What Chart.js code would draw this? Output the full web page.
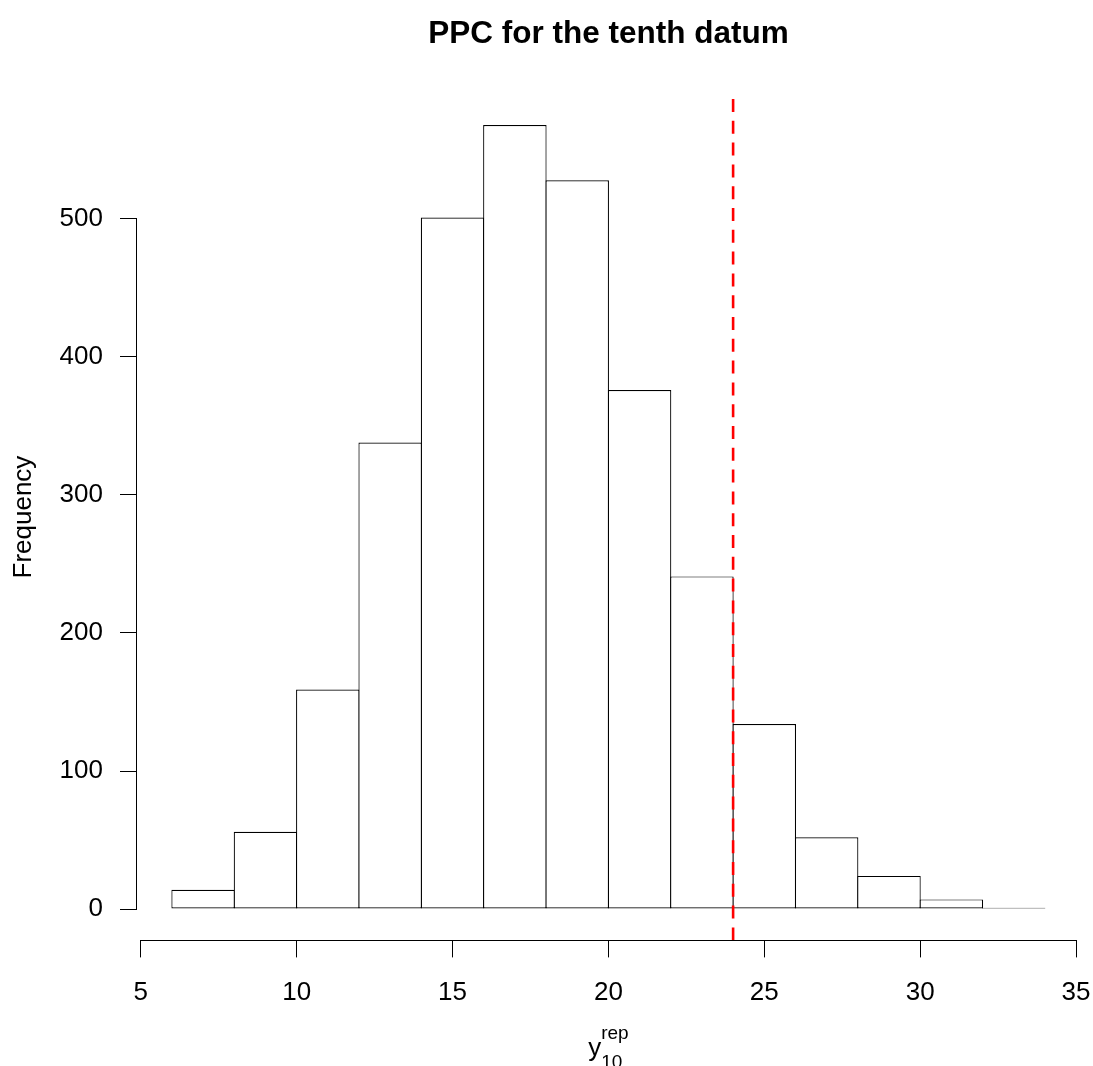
<!DOCTYPE html>
<html>
<head>
<meta charset="utf-8">
<title>PPC for the tenth datum</title>
<script src="https://cdn.jsdelivr.net/npm/chart.js"></script>
<style>
  html, body { margin: 0; padding: 0; background: #fff; }
  #wrap { width: 1093px; height: 1066px; }
</style>
</head>
<body>
<div id="wrap"><canvas id="chart" width="1093" height="1066"></canvas></div>
<script>
// histogram of the replicated tenth datum, bins of width 2
const binStarts = [6, 8, 10, 12, 14, 16, 18, 20, 22, 24, 26, 28, 30, 32];
const binWidth = 2;
const counts = [14, 56, 159, 338, 501, 568, 528, 376, 241, 134, 52, 24, 7, 1];
const observed = 24;   // the observed value, red dashed line
const xTicks = [5, 10, 15, 20, 25, 30, 35];
const yTicks = [0, 100, 200, 300, 400, 500];

// base R style limits: 4% extension of the data range
const xLo = binStarts[0], xHi = binStarts[binStarts.length - 1] + binWidth;
const xMin = xLo - 0.04 * (xHi - xLo), xMax = xHi + 0.04 * (xHi - xLo);
const yTop = Math.max(...counts);
const yMin = -0.04 * yTop, yMax = 1.04 * yTop;

const FONT = '"Liberation Sans", Arial, Helvetica, sans-serif';
Chart.defaults.font.family = FONT;
Chart.defaults.color = '#000';

// axis lines only from first to last tick, plus the plotmath x label
const rAxes = {
  id: 'rAxes',
  afterDraw(chart) {
    const { ctx, scales: { x, y } } = chart;
    ctx.save();
    ctx.strokeStyle = '#000';
    ctx.lineWidth = 1;
    const ax = Math.round(y.right) - 0.5;
    ctx.beginPath();
    ctx.moveTo(ax, y.getPixelForValue(yTicks[0]));
    ctx.lineTo(ax, y.getPixelForValue(yTicks[yTicks.length - 1]));
    ctx.stroke();
    const ay = Math.round(x.top) + 0.5;
    ctx.beginPath();
    ctx.moveTo(x.getPixelForValue(xTicks[0]), ay);
    ctx.lineTo(x.getPixelForValue(xTicks[xTicks.length - 1]), ay);
    ctx.stroke();

    // y[10]^rep
    const cx = (x.left + x.right) / 2;
    ctx.fillStyle = '#000';
    ctx.textBaseline = 'alphabetic';
    ctx.textAlign = 'left';
    ctx.font = '26px ' + FONT;
    const wy = ctx.measureText('y').width;
    ctx.font = '19px ' + FONT;
    const ws = Math.max(ctx.measureText('rep').width, ctx.measureText('10').width);
    const x0 = cx - (wy + ws) / 2;
    const base = x.bottom - 10;
    ctx.font = '26px ' + FONT;
    ctx.fillText('y', x0, base);
    ctx.font = '19px ' + FONT;
    ctx.fillText('rep', x0 + wy, base - 17.5);
    ctx.fillText('10', x0 + wy, base + 12);
    ctx.restore();
  }
};

new Chart(document.getElementById('chart'), {
  type: 'bar',
  data: {
    datasets: [
      {
        type: 'line',
        order: 0,
        data: [{ x: observed, y: yMin }, { x: observed, y: yMax }],
        borderColor: '#ff0000',
        borderWidth: 2.6,
        borderDash: [13, 8.8],
        pointRadius: 0,
        fill: false
      },
      {
        order: 1,
        data: binStarts.map((b, i) => ({ x: b + binWidth / 2, y: counts[i] })),
        backgroundColor: '#fff',
        borderColor: '#000',
        borderWidth: 1.2,
        borderSkipped: false,
        inflateAmount: 0,
        barPercentage: 1.018,
        categoryPercentage: 1
      }
    ]
  },
  options: {
    responsive: false,
    animation: false,
    layout: { padding: { left: 0, right: 13.2, top: 0, bottom: 0 } },
    plugins: {
      legend: { display: false },
      tooltip: { enabled: false },
      title: {
        display: true,
        fullSize: false,
        text: 'PPC for the tenth datum',
        color: '#000',
        font: { size: 31.5, weight: 'bold' },
        padding: { top: 15.4, bottom: 40.5 }
      }
    },
    scales: {
      x: {
        type: 'linear',
        min: xMin,
        max: xMax,
        offset: false,
        afterBuildTicks: s => { s.ticks = xTicks.map(v => ({ value: v })); },
        afterFit: s => { s.height = 125.6; s.paddingLeft = 0; s.paddingRight = 0; },
        grid: { offset: false, drawOnChartArea: false, color: '#000', tickLength: 17 },
        border: { display: false },
        ticks: { font: { size: 26 }, padding: 20, maxRotation: 0, color: '#000' }
      },
      y: {
        min: yMin,
        max: yMax,
        afterBuildTicks: s => { s.ticks = yTicks.map(v => ({ value: v })); },
        afterFit: s => { s.width = 137; },
        grid: { drawOnChartArea: false, color: '#000', tickLength: 17 },
        border: { display: false },
        ticks: { font: { size: 26 }, padding: 17, color: '#000' },
        title: {
          display: true,
          text: 'Frequency',
          color: '#000',
          font: { size: 26 },
          padding: { top: 8.4, bottom: 0 }
        }
      }
    }
  },
  plugins: [rAxes]
});
</script>
</body>
</html>
